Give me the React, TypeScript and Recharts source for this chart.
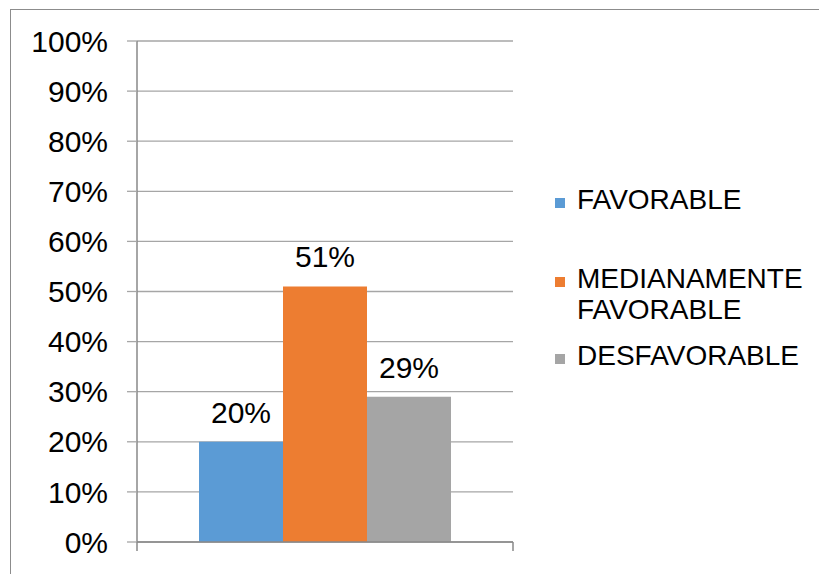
import React from 'react';
import {
  BarChart,
  Bar,
  XAxis,
  YAxis,
  CartesianGrid,
  LabelList,
} from 'recharts';

const categories = ['Resultado'];
const seriesNames = ['FAVORABLE', 'MEDIANAMENTE FAVORABLE', 'DESFAVORABLE'];
const seriesKeys = ['favorable', 'medianamente', 'desfavorable'];
const seriesValues = [20, 51, 29];
const seriesColors = ['#5B9BD5', '#ED7D31', '#A5A5A5'];
const yTicks = [0, 10, 20, 30, 40, 50, 60, 70, 80, 90, 100];

const data = categories.map((name) => {
  const row: Record<string, string | number> = { name };
  seriesKeys.forEach((k, i) => {
    row[k] = seriesValues[i];
  });
  return row;
});

const FONT = '"Liberation Sans", Arial, Helvetica, sans-serif';
const AXIS_COLOR = '#898989';

const legendItemTops = [0, 79, 156];

const EdgeTicks = (props: any) => {
  const { x, y, payload, width } = props;
  let half = payload && typeof payload.offset === 'number' ? payload.offset : 0;
  if (!half && typeof width === 'number') half = width / categories.length / 2;
  return (
    <g>
      <line x1={x - half} x2={x - half} y1={y} y2={y + 9} stroke={AXIS_COLOR} strokeWidth={1.5} />
      <line x1={x + half} x2={x + half} y1={y} y2={y + 9} stroke={AXIS_COLOR} strokeWidth={1.5} />
    </g>
  );
};

const ChartLegend = () => (
  <div
    style={{
      position: 'absolute',
      left: 555,
      top: 184,
      width: 264,
      height: 220,
      fontFamily: FONT,
    }}
  >
    {seriesNames.map((n, i) => (
      <div
        key={n}
        style={{
          position: 'absolute',
          left: 0,
          top: legendItemTops[i],
          display: 'flex',
          alignItems: 'flex-start',
        }}
      >
        <div
          style={{
            width: 10,
            height: 10,
            marginTop: 14,
            background: seriesColors[i],
            flex: '0 0 auto',
          }}
        />
        <div
          style={{
            marginLeft: 12,
            fontSize: 28,
            lineHeight: '31px',
            color: '#000',
            width: 240,
            whiteSpace: 'nowrap',
          }}
        >
          {n === 'MEDIANAMENTE FAVORABLE' ? (
            <>
              MEDIANAMENTE
              <br />
              FAVORABLE
            </>
          ) : (
            n
          )}
        </div>
      </div>
    ))}
  </div>
);

export default function App() {
  return (
    <div
      style={{
        position: 'absolute',
        left: 0,
        top: 0,
        width: 819,
        height: 574,
        overflow: 'hidden',
        background: '#fff',
      }}
    >
      <div
        style={{
          position: 'absolute',
          left: 10,
          top: 9,
          width: 900,
          height: 700,
          borderTop: '1.5px solid #8c8c8c',
          borderLeft: '1.5px solid #8c8c8c',
          boxSizing: 'border-box',
        }}
      />
      <BarChart
        width={819}
        height={574}
        data={data}
        margin={{ top: 41, right: 306, bottom: 0, left: 0 }}
        barCategoryGap={62}
        barGap={0}
        style={{ position: 'absolute', left: 0, top: 0 }}
      >
        <CartesianGrid vertical={false} stroke="#a6a6a6" strokeWidth={1.3} />
        <XAxis
          dataKey="name"
          type="category"
          height={32}
          tickSize={0}
          tickMargin={0}
          tickLine={false}
          tick={<EdgeTicks />}
          axisLine={{ stroke: AXIS_COLOR, strokeWidth: 1.5 }}
        />
        <YAxis
          type="number"
          domain={[0, 100]}
          ticks={yTicks}
          interval={0}
          width={137}
          tickSize={10}
          tickMargin={19}
          tickFormatter={(v: number) => `${v}%`}
          tick={{ fill: '#000', fontSize: 30, fontFamily: FONT }}
          axisLine={{ stroke: AXIS_COLOR, strokeWidth: 1.5 }}
          tickLine={{ stroke: '#a6a6a6', strokeWidth: 1.3 }}
        />
        {seriesKeys.map((k, i) => (
          <Bar
            key={k}
            dataKey={k}
            name={seriesNames[i]}
            fill={seriesColors[i]}
            isAnimationActive={false}
          >
            <LabelList
              dataKey={k}
              position="top"
              offset={19}
              formatter={(v: number) => `${v}%`}
              style={{ fill: '#000', fontSize: 30, fontFamily: FONT }}
            />
          </Bar>
        ))}
      </BarChart>
      <ChartLegend />
    </div>
  );
}
